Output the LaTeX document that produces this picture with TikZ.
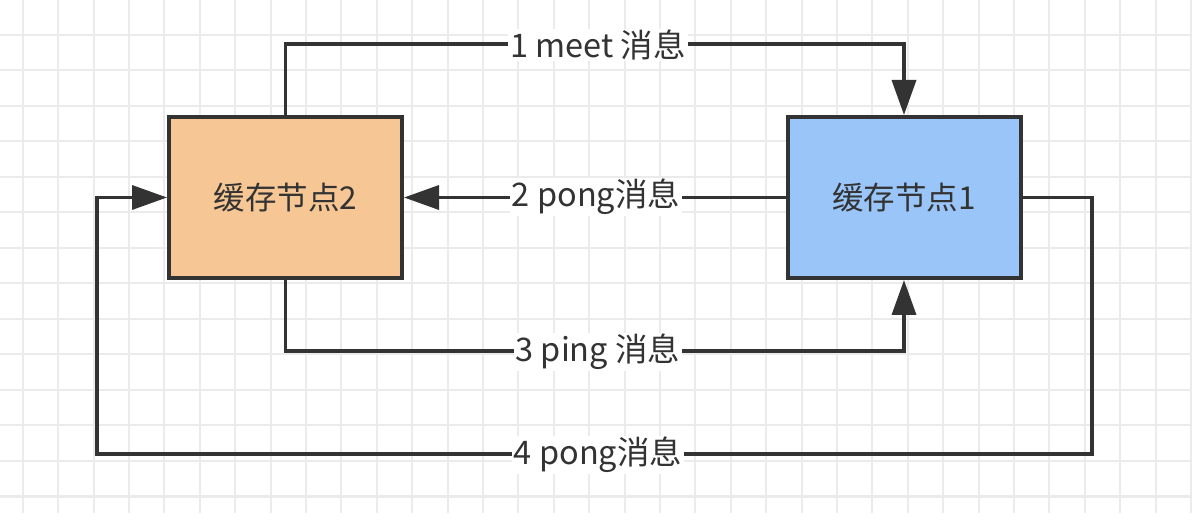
\documentclass[tikz,border=0pt]{standalone}
\usepackage{fontspec}
\setmainfont{Noto Sans CJK SC}
\usetikzlibrary{arrows.meta}
\definecolor{gridc}{HTML}{EBEBEB}
\definecolor{inkc}{HTML}{333333}
\definecolor{orangec}{HTML}{F6C694}
\definecolor{bluec}{HTML}{9AC5F8}
\tikzset{
  boxnode/.style={draw=inkc, line width=4pt, minimum width=233pt, minimum height=161pt, inner sep=0pt,
    font=\fontsize{31.5}{36}\selectfont, text=inkc},
  conn/.style={draw=inkc, line width=3.5pt, -{Triangle[length=35pt,width=24pt]}},
  lbl/.style={fill=white, inner xsep=2pt, inner ysep=1pt, font=\fontsize{32.5}{36}\selectfont, text=inkc},
}
\begin{document}
\begin{tikzpicture}[x=1pt,y=-1pt]
\useasboundingbox (0,0) rectangle (1192,526);
\fill[white] (0,0) rectangle (1192,526);
% grid
\foreach \k in {0,...,33} {
  \draw[gridc, line width=2pt] ({22.7+35.4*\k},0) -- ({22.7+35.4*\k},513);
}
\foreach \k in {0,...,13} {
  \draw[gridc, line width=2pt] (0,{35+35.5*\k}) -- (1192,{35+35.5*\k});
}
% boxes
\node[boxnode, fill=orangec] (n2) at (285.5,197.5) {缓存节点2};
\node[boxnode, fill=bluec] (n1) at (904,197.5) {缓存节点1};
% helper coordinates
\coordinate (c1) at (598,44);
\coordinate (c3) at (598,351);
\coordinate (r4) at (1092,454);
\coordinate (l4) at (97,454);
% connectors
\draw[conn] (n2.north) |- (c1) -| (n1.north);
\draw[conn] (n1.west) -- (n2.west -| n2.east);
\draw[conn] (n2.south) |- (c3) -| (n1.south);
\draw[conn] (n1.east) -| (r4) -- (l4) |- (n2.west);
% labels
\node[lbl] (t1) at (598,45) {1 meet 消息};
\node[lbl] (t2) at (596,197) {2 pong消息};
\node[lbl] (t3) at (598,352) {3 ping 消息};
\node[lbl] (t4) at (598,455) {4 pong消息};
\end{tikzpicture}
\end{document}
